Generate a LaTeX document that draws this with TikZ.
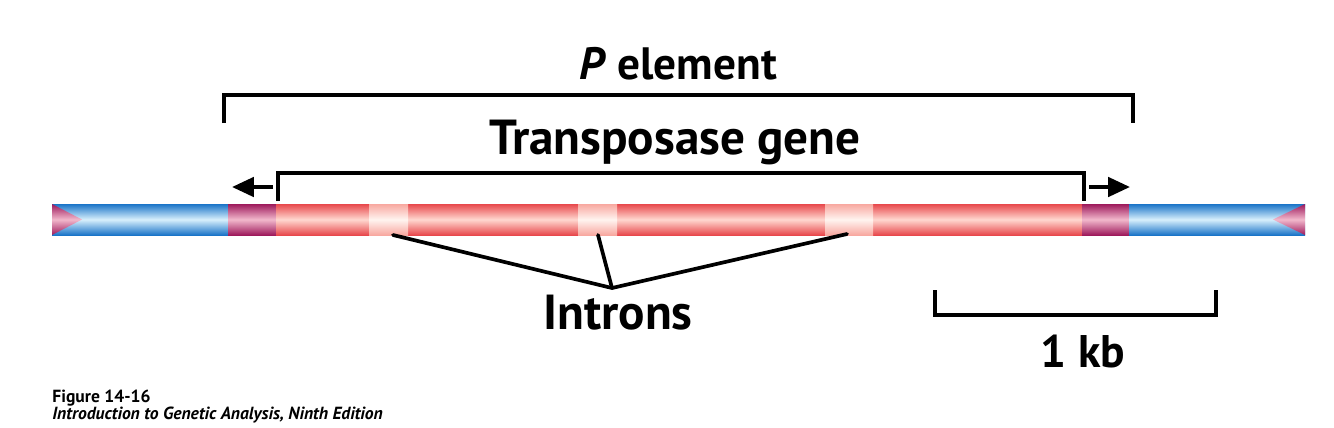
\documentclass[tikz,border=0pt]{standalone}
\usepackage{fontspec}
\setmainfont{PT Sans}
\usetikzlibrary{arrows.meta}
\definecolor{bluedark}{HTML}{1A74C8}
\definecolor{bluelight}{HTML}{D8F0FC}
\definecolor{reddark}{HTML}{E8484C}
\definecolor{redlight}{HTML}{FFD8D0}
\definecolor{purpdark}{HTML}{9E1A5C}
\definecolor{purplight}{HTML}{F2B8CC}
\definecolor{intdark}{HTML}{F8A8A0}
\definecolor{intlight}{HTML}{FFF4F0}
\tikzset{
  seg/.style={inner sep=0pt, outer sep=0pt, minimum height=31*0.02cm, anchor=west, shading=axis},
  blueseg/.style={seg, top color=bluedark, bottom color=bluedark, middle color=bluelight},
  redseg/.style={seg, top color=reddark, bottom color=reddark, middle color=redlight},
  purpseg/.style={seg, top color=purpdark, bottom color=purpdark, middle color=purplight},
  intseg/.style={seg, top color=intdark, bottom color=intdark, middle color=intlight},
  bracket/.style={line width=2.3pt, line join=miter},
  pointer/.style={line width=2.2pt, -{Triangle[length=12.5pt,width=11pt]}},
  label/.style={font=\bfseries, inner sep=0pt},
  ptr/.style={line width=2.1pt, line cap=round}
}
\begin{document}
\begin{tikzpicture}[x=0.02cm, y=-0.02cm]
\useasboundingbox (0,0) rectangle (1334,427);
% chromosome bar
\node[blueseg, minimum width=176*0.02cm] (bl) at (52,219.5) {};
\node[purpseg, minimum width=48*0.02cm] (pl) at (228,219.5) {};
\node[redseg, minimum width=806*0.02cm] (red) at (276,219.5) {};
\node[purpseg, minimum width=47*0.02cm] (pr) at (1082,219.5) {};
\node[blueseg, minimum width=176*0.02cm] (br) at (1129,219.5) {};
% introns
\node[intseg, minimum width=39*0.02cm] (i1) at (369,219.5) {};
\node[intseg, minimum width=39*0.02cm] (i2) at (578,219.5) {};
\node[intseg, minimum width=48*0.02cm] (i3) at (825,219.5) {};
% end triangles
\shade[top color=purpdark, bottom color=purpdark, middle color=purplight]
  (bl.north west) -- (82,219.5) -- (bl.south west) -- cycle;
\shade[top color=purpdark, bottom color=purpdark, middle color=purplight]
  (br.north east) -- (1273,219.5) -- (br.south east) -- cycle;
% P element bracket
\coordinate (pe1) at (224,123);
\coordinate (pe2) at (1133,123);
\draw[bracket] (pe1) |- (678,95) -| (pe2);
\node[label, font=\bfseries\fontsize{25.8}{30}\selectfont] (pel) at (678,64) {\textit{P} element};
% Transposase bracket
\coordinate (tg1) at (278,201);
\coordinate (tg2) at (1084,201);
\draw[bracket] (tg1) |- (681,173) -| (tg2);
\node[label, font=\bfseries\fontsize{28}{32}\selectfont] (tgl) at (675,142) {Transposase gene};
% direction arrows
\coordinate (al) at (273,187);
\coordinate (alt) at (232,187);
\coordinate (ar) at (1089,187);
\coordinate (art) at (1130,187);
\draw[pointer] (al) -- (alt);
\draw[pointer] (ar) -- (art);
% intron pointers
\coordinate (apex) at (612,288);
\draw[ptr] (apex) -- (393,235);
\draw[ptr] (apex) -- (598,235);
\draw[ptr] (apex) -- (847,234);
\node[label, font=\bfseries\fontsize{28}{32}\selectfont] (intr) at (618,313) {Introns};
% scale bar
\coordinate (s1) at (935,290);
\coordinate (s2) at (1216,290);
\draw[bracket] (s1) |- (1075,315) -| (s2);
\node[label, font=\bfseries\fontsize{26}{30}\selectfont] (kb) at (1083,352) {1 kb};
% caption
\node[label, anchor=west, font=\bfseries\fontsize{10}{12}\selectfont] (cap1) at (52,398) {Figure 14-16};
\node[label, anchor=west, font=\bfseries\itshape\fontsize{10}{12}\selectfont] (cap2) at (52,415) {Introduction to Genetic Analysis, Ninth Edition};
\end{tikzpicture}
\end{document}
